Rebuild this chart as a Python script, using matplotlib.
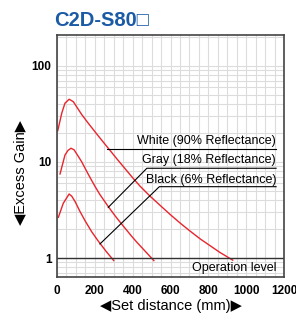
import numpy as np
import matplotlib.pyplot as plt

# ----- data -----
white_x = [4, 25, 42, 64, 86, 131, 166, 218, 271, 316, 404, 439, 492, 598, 651, 700, 757, 862, 929]
white_y = [21.2, 32.2, 40.9, 45, 42.5, 31.1, 25.2, 18.7, 13.9, 10.8, 6.7, 5.6, 4.4, 2.84, 2.31, 1.93, 1.58, 1.14, 0.95]
gray_x = [16, 42, 58, 74, 90, 113, 131, 166, 201, 227, 271, 307, 333, 395, 422, 512]
gray_y = [7.5, 11.8, 13.2, 13.9, 13.4, 11.4, 10.0, 7.4, 5.56, 4.57, 3.43, 2.75, 2.37, 1.68, 1.46, 0.94]
black_x = [7, 33, 64, 78, 95, 120, 148, 183, 218, 260, 300]
black_y = [2.65, 3.71, 4.64, 4.4, 3.89, 3.09, 2.45, 1.88, 1.50, 1.17, 0.94]

labels = ["White (90% Reflectance)", "Gray (18% Reflectance)", "Black (6% Reflectance)"]
x_ticks = [0, 200, 400, 600, 800, 1000, 1200]
y_ticks = [1, 10, 100]

fam = ["Liberation Sans", "DejaVu Sans"]
red = "#e8252d"

fig = plt.figure(figsize=(2.96, 3.16), dpi=100)
ax = fig.add_axes([0.1926, 0.1234, 0.7669, 0.7658])

ax.set_yscale("log")
ax.set_xlim(0, 1200)
ax.set_ylim(0.634, 210)

# grid
ax.set_xticks(np.arange(0, 1201, 50), minor=True)
ax.grid(True, which="both", axis="x", color="#dcdcdc", lw=0.8)
ax.grid(True, which="both", axis="y", color="#dcdcdc", lw=0.8)
ax.set_axisbelow(True)

for xs, ys in [(white_x, white_y), (gray_x, gray_y), (black_x, black_y)]:
    ax.plot(xs, ys, color=red, lw=1.0)

# operation level
ax.axhline(1, color="#333333", lw=1.0)
ax.text(1158, 0.787, "Operation level", ha="right", va="center", fontsize=9, family=fam)

# leader lines + labels
ax.plot([264, 1158], [13.6, 13.6], color="black", lw=0.8)
ax.plot([271, 475, 1158], [3.37, 8.6, 8.6], color="black", lw=0.8)
ax.plot([227, 541, 1158], [1.40, 5.53, 5.53], color="black", lw=0.8)
for lab, ty in zip(labels, [16.7, 10.5, 6.5]):
    ax.text(1158, ty, lab, ha="right", va="center", fontsize=9, family=fam)

ax.set_xticks(x_ticks)
ax.set_xticklabels([str(t) for t in x_ticks], fontsize=8.5, fontweight="bold", family=fam)
ax.set_yticks(y_ticks)
ax.set_yticklabels([str(t) for t in y_ticks], fontsize=8.5, fontweight="bold", family=fam)
ax.yaxis.set_minor_formatter(plt.NullFormatter())
ax.tick_params(which="both", length=0)
ax.tick_params(axis="x", pad=6)
ax.tick_params(axis="y", pad=4)

for s in ax.spines.values():
    s.set_color("#444444")
    s.set_linewidth(1.2)

ax.set_xlabel("◀Set distance (mm)▶", fontsize=10.5, family=fam, labelpad=1)
ax.set_ylabel("◀Excess Gain▶", fontsize=10.5, family=fam, labelpad=3)
ax.yaxis.label.set_y(0.43)

fig.text(54 / 296, 1 - 20 / 316, "C2D-S80□", fontsize=14.5, fontweight="bold",
         color="#1b5aa5", family=fam, ha="left", va="center")

fig.savefig("out.png", dpi=100)
